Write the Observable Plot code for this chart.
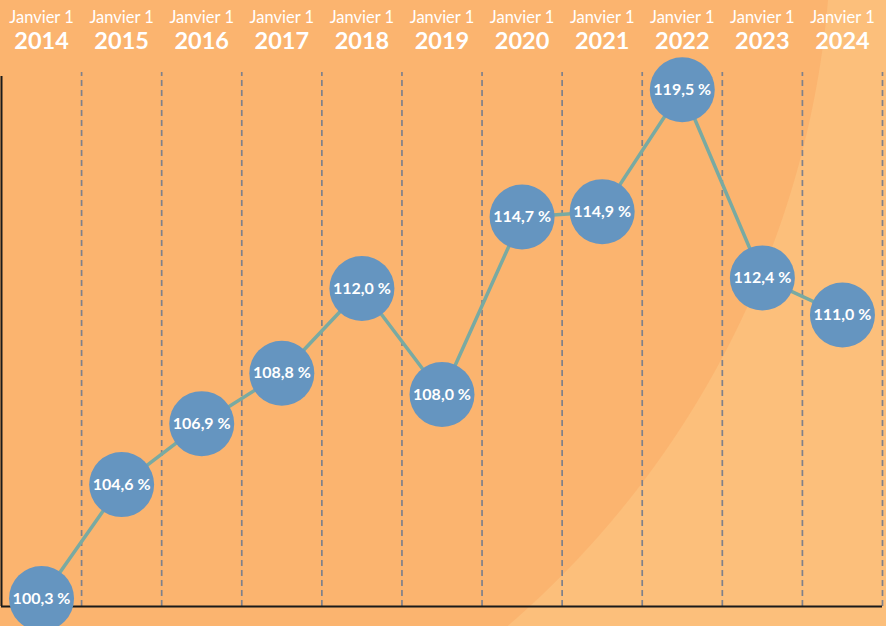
<!DOCTYPE html>
<html>
<head>
<meta charset="utf-8">
<script src="https://cdn.jsdelivr.net/npm/d3@7"></script>
<script src="https://cdn.jsdelivr.net/npm/@observablehq/plot@0.6"></script>
<style>
  html, body { margin: 0; padding: 0; }
  #chart {
    width: 886px; height: 626px; overflow: hidden;
    background: radial-gradient(circle 932px at -100px -80px, #FBB46F 931px, #FCBF7B 932px);
    font-family: Lato, sans-serif;
  }
  #chart svg { display: block; }
</style>
</head>
<body>
<div id="chart"></div>
<script>
const years = [2014, 2015, 2016, 2017, 2018, 2019, 2020, 2021, 2022, 2023, 2024];
const values = [100.3, 104.6, 106.9, 108.8, 112.0, 108.0, 114.7, 114.9, 119.5, 112.4, 111.0];
const headerLabel = "Janvier 1";

const data = years.map((year, i) => ({year, value: values[i]}));
const dividers = years.map(y => y + 0.5);
const fmt = v => v.toFixed(1).replace(".", ",") + " %";

const chart = Plot.plot({
  width: 886,
  height: 626,
  marginTop: 76,
  marginBottom: 20,
  marginLeft: 1,
  marginRight: 4,
  style: {background: "transparent", fontFamily: "Lato, sans-serif", overflow: "visible"},
  x: {type: "linear", domain: [years[0] - 0.5, years[years.length - 1] + 0.5], label: null},
  y: {domain: [100, 120], axis: null, label: null},
  marks: [
    Plot.ruleX(dividers, {stroke: "#7f818b", strokeWidth: 1.7, strokeDasharray: "6,4", y1: 100, y2: 120.15}),
    Plot.ruleX([years[0] - 0.5], {stroke: "#1a1a1a", strokeWidth: 2}),
    Plot.ruleY([100], {stroke: "#1a1a1a", strokeWidth: 2}),
    Plot.line(data, {x: "year", y: "value", stroke: "#79AAA2", strokeWidth: 3.5}),
    Plot.dot(data, {x: "year", y: "value", r: 32.5, fill: "#6595C0", stroke: null}),
    Plot.text(data, {x: "year", y: "value", text: d => fmt(d.value), fill: "white", fontWeight: "bold", fontSize: 16}),
    Plot.axisX(years, {anchor: "top", label: null, tickSize: 0, tickPadding: 0, tickFormat: () => headerLabel, fontSize: 16.5, fill: "white", dy: -54}),
    Plot.axisX(years, {anchor: "top", label: null, tickSize: 0, tickPadding: 0, tickFormat: d => String(d), fontSize: 23.5, fontWeight: "bold", fill: "white", dy: -27.5})
  ]
});
document.getElementById("chart").appendChild(chart);
</script>
</body>
</html>
